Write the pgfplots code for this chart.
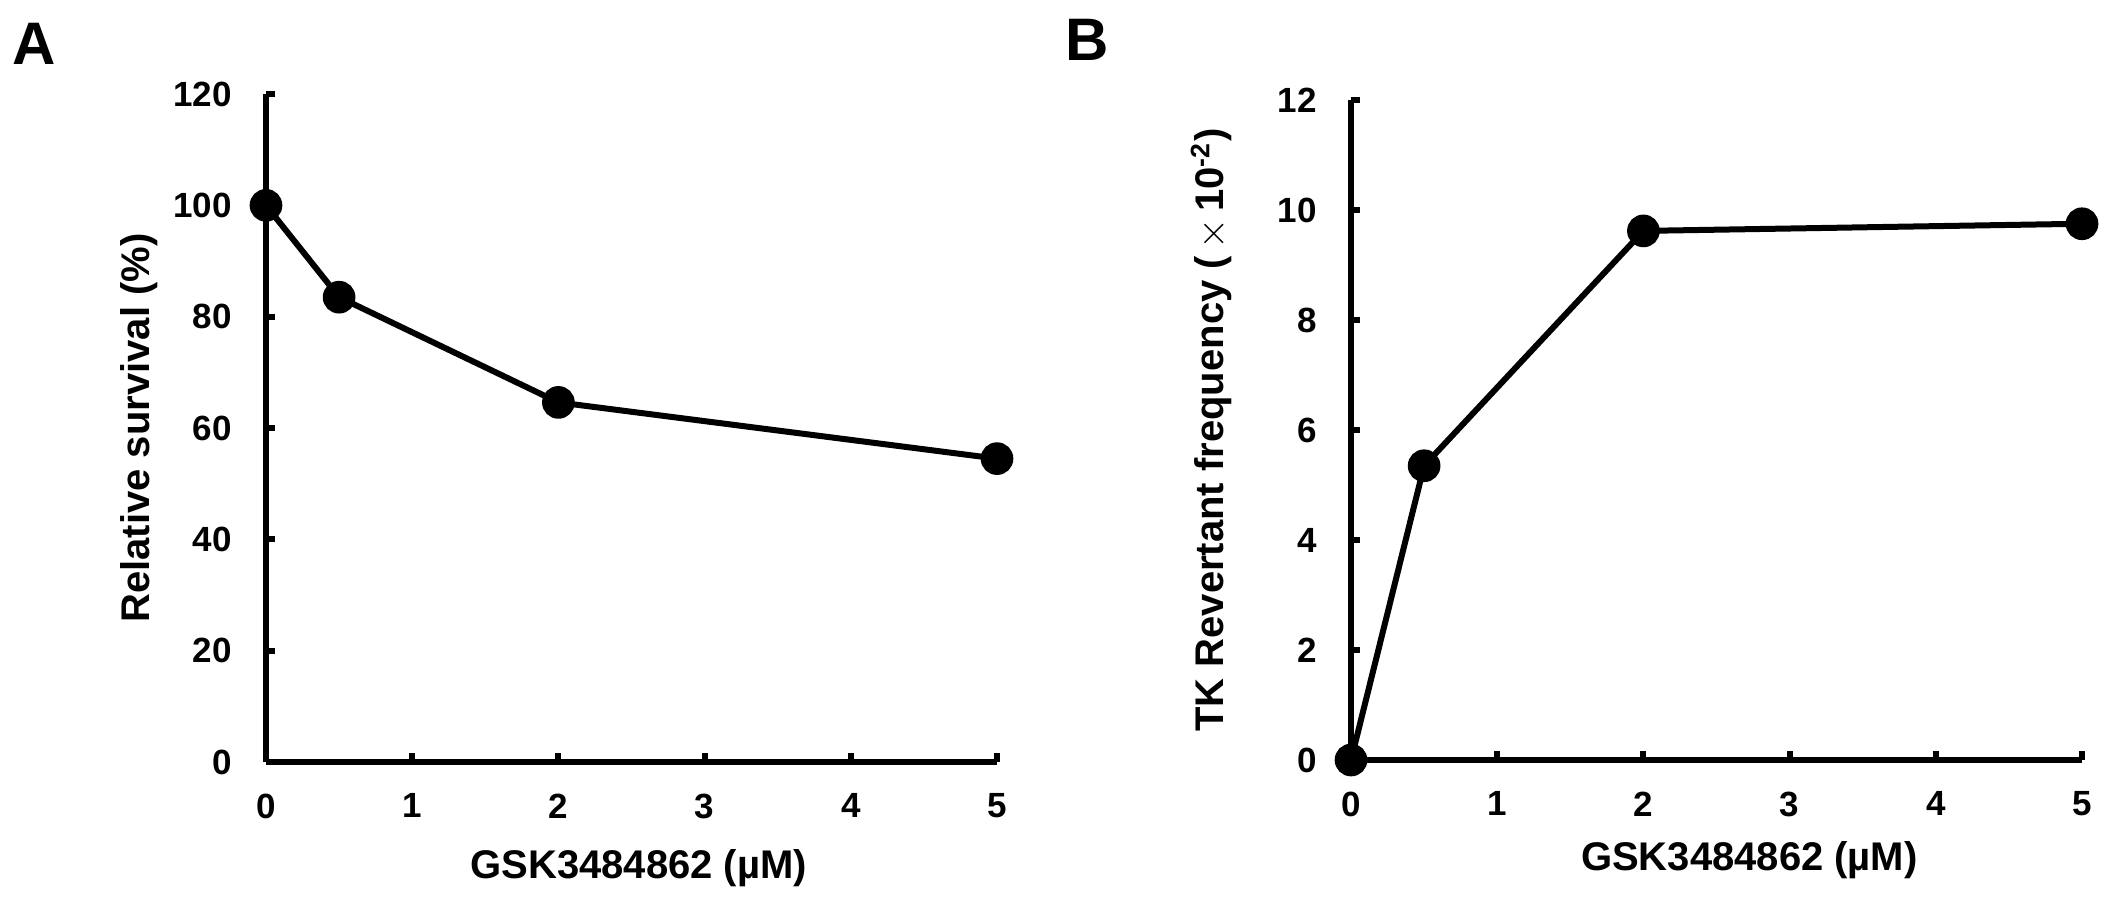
\documentclass[border=0pt]{standalone}
\usepackage{fontspec}
\setmainfont{Liberation Sans}
\usepackage{pgfplots}
\pgfplotsset{compat=1.18}
\pgfplotstableread{
x y
0 100
0.5 83.5
2 64.6
5 54.5
}\survival
\pgfplotstableread{
x y
0 0
0.5 5.35
2 9.62
5 9.75
}\revertant
\pgfplotsset{
  common/.style={
    scale only axis,
    width=219.3pt,
    xmin=0, xmax=5,
    xtick={0,1,2,3,4,5},
    axis x line*=bottom,
    axis y line*=left,
    axis line style={line width=1.8pt, black},
    every tick/.style={line width=1.8pt, black},
    tick align=inside,
    major tick length=2.6pt,
    clip=false,
    /pgf/number format/assume math mode=true,
    ticklabel style={font=\bfseries\fontsize{10.5}{12}\selectfont},
    yticklabel style={xshift=-6.7pt},
    xticklabel style={yshift=-6pt},
    label style={font=\bfseries\fontsize{12}{14}\selectfont},
  },
  dataline/.style={black, line width=1.8pt, mark=*, mark size=4pt, mark options={solid, fill=black}},
}
\begin{document}
\begin{tikzpicture}
\useasboundingbox (0pt,0pt) rectangle (630.9pt,276.3pt);
\begin{axis}[common,
  at={(79.8pt,47.7pt)}, anchor=south west,
  height=200.4pt,
  ymin=0, ymax=120, ytick={0,20,40,60,80,100,120},
  xlabel={GSK3484862 (µM)},
  xlabel style={at={(axis description cs:0.51,-0.175)}, anchor=base},
  ylabel={Relative survival (\%)},
  ylabel style={at={(axis description cs:-0.159,0.5)}, anchor=base},
]
\addplot[dataline] table[x=x,y=y] {\survival};
\end{axis}
\begin{axis}[common,
  at={(405.3pt,48.3pt)}, anchor=south west,
  height=198pt,
  ymin=0, ymax=12, ytick={0,2,4,6,8,10,12},
  xlabel={GSK3484862 (µM)},
  xlabel style={at={(axis description cs:0.545,-0.167)}, anchor=base},
  ylabel={TK Revertant frequency (\,{\mdseries$\times$}\,10\textsuperscript{-2})},
  ylabel style={at={(axis description cs:-0.174,0.5)}, anchor=base},
]
\addplot[dataline] table[x=x,y=y] {\revertant};
\end{axis}
\node[font=\bfseries\fontsize{18}{20}\selectfont] at (10.2pt,263.1pt) {A};
\node[font=\bfseries\fontsize{18}{20}\selectfont] at (326.1pt,264.3pt) {B};
\end{tikzpicture}
\end{document}
